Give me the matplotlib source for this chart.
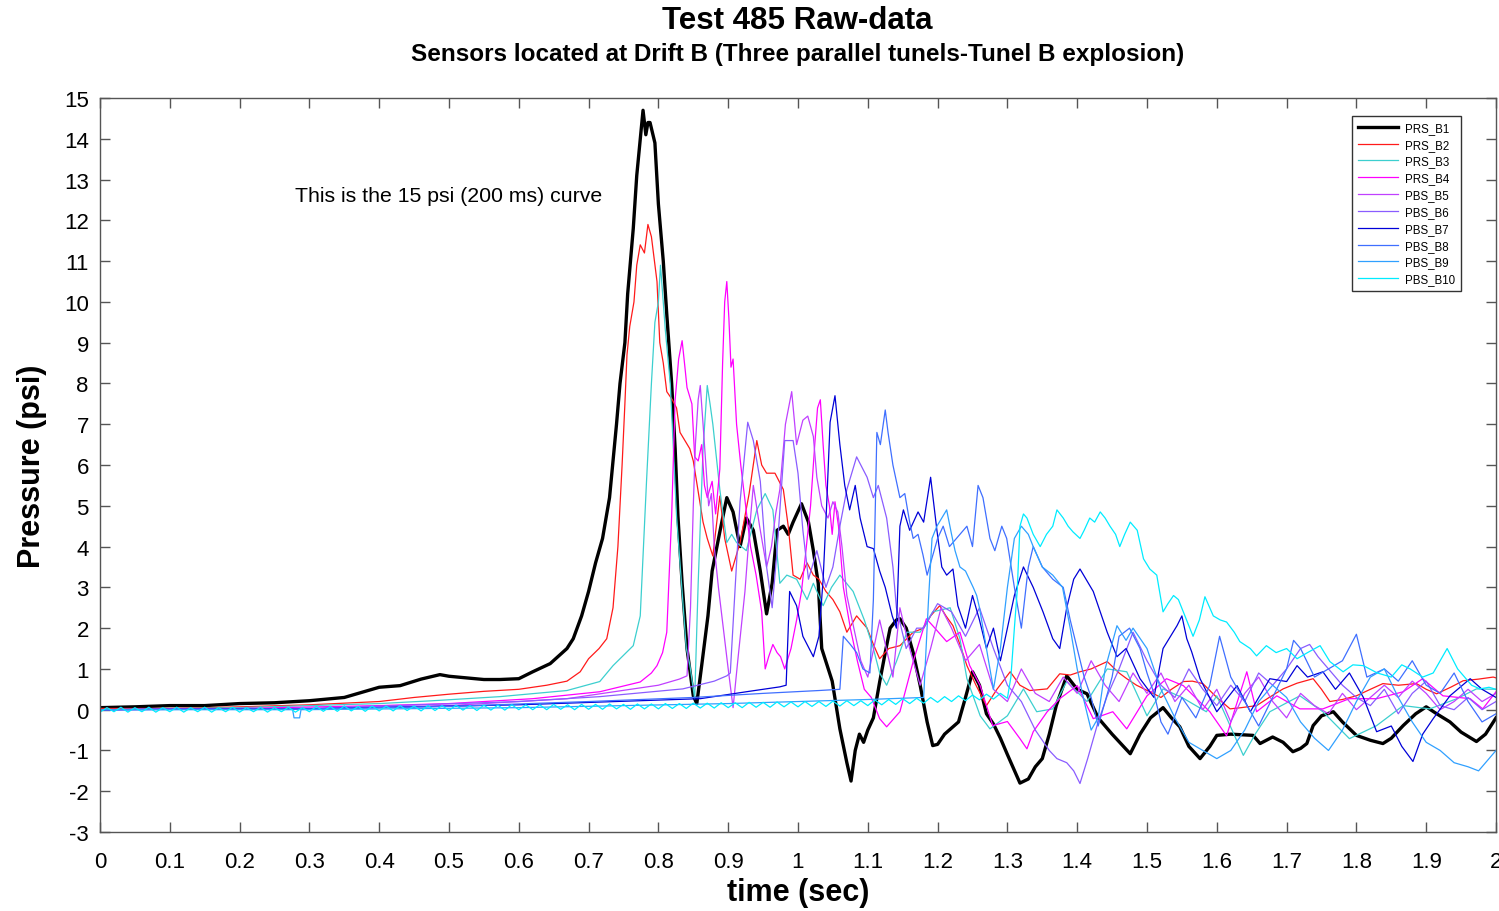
import numpy as np
import matplotlib
matplotlib.use("Agg")
import matplotlib.pyplot as plt
from matplotlib.ticker import FuncFormatter, MultipleLocator

plt.rcParams['font.family'] = ['Liberation Sans', 'DejaVu Sans']
plt.rcParams['axes.unicode_minus'] = False

# ---------------- data (time in s, pressure in psi) ----------------
series_names = ["PRS_B1", "PRS_B2", "PRS_B3", "PRS_B4", "PBS_B5",
                "PBS_B6", "PBS_B7", "PBS_B8", "PBS_B9", "PBS_B10"]
series_colors = ["#000000", "#FF1A1A", "#3CCFCF", "#FF00FF", "#C040FF",
                 "#8A5CFF", "#0000D8", "#3F6FFF", "#30A0FF", "#00ECFF"]

b1 = [(0, 0.05), (0.05, 0.07), (0.1, 0.1), (0.15, 0.1), (0.2, 0.15), (0.25, 0.17), (0.3, 0.22),
      (0.35, 0.3), (0.38, 0.45), (0.4, 0.55), (0.43, 0.59), (0.46, 0.75), (0.487, 0.86), (0.5, 0.82),
      (0.525, 0.78), (0.55, 0.74), (0.573, 0.74), (0.6, 0.76), (0.62, 0.93), (0.645, 1.13),
      (0.669, 1.5), (0.678, 1.74), (0.69, 2.3), (0.70, 2.9), (0.71, 3.6), (0.72, 4.2), (0.73, 5.2),
      (0.74, 7.0), (0.745, 8.0), (0.752, 9.0), (0.756, 10.2), (0.764, 11.8), (0.769, 13.1),
      (0.774, 14.0), (0.778, 14.7), (0.782, 14.1), (0.785, 14.4), (0.788, 14.4), (0.795, 13.9),
      (0.80, 12.4), (0.807, 11.0), (0.812, 9.7), (0.819, 8.0), (0.824, 6.4), (0.828, 4.75),
      (0.834, 3.1), (0.841, 1.5), (0.85, 0.34), (0.855, 0.15), (0.862, 1.08), (0.871, 2.3),
      (0.877, 3.4), (0.888, 4.36), (0.898, 5.2), (0.907, 4.85), (0.917, 4.0), (0.926, 4.7),
      (0.936, 4.4), (0.946, 3.4), (0.955, 2.35), (0.963, 3.1), (0.97, 4.4), (0.979, 4.5),
      (0.986, 4.3), (0.993, 4.6), (1.005, 5.05), (1.015, 4.6), (1.022, 3.9), (1.029, 3.1),
      (1.034, 1.5), (1.049, 0.7), (1.06, -0.47), (1.07, -1.3), (1.076, -1.75), (1.082, -1.0),
      (1.088, -0.6), (1.094, -0.8), (1.1, -0.5), (1.108, -0.2), (1.117, 0.68), (1.125, 1.4),
      (1.132, 2.0), (1.141, 2.2), (1.146, 2.23), (1.155, 2.0), (1.165, 1.4), (1.175, 0.6),
      (1.185, -0.3), (1.193, -0.88), (1.2, -0.85), (1.21, -0.6), (1.22, -0.45), (1.23, -0.3),
      (1.24, 0.3), (1.25, 0.93), (1.26, 0.6), (1.27, -0.1), (1.28, -0.35), (1.29, -0.7),
      (1.30, -1.1), (1.318, -1.8), (1.33, -1.7), (1.34, -1.4), (1.35, -1.2), (1.36, -0.6),
      (1.37, 0.1), (1.385, 0.83), (1.4, 0.5), (1.414, 0.39), (1.43, -0.2), (1.45, -0.6),
      (1.476, -1.08), (1.49, -0.6), (1.505, -0.2), (1.523, 0.05), (1.535, -0.2), (1.547, -0.42),
      (1.56, -0.9), (1.576, -1.2), (1.59, -0.9), (1.6, -0.63), (1.62, -0.6), (1.64, -0.62),
      (1.652, -0.63), (1.662, -0.83), (1.68, -0.67), (1.695, -0.8), (1.709, -1.03), (1.72, -0.95),
      (1.729, -0.83), (1.738, -0.39), (1.75, -0.15), (1.767, -0.05), (1.78, -0.3), (1.8, -0.63),
      (1.82, -0.75), (1.838, -0.83), (1.85, -0.7), (1.867, -0.39), (1.885, -0.1), (1.9, 0.07),
      (1.915, -0.1), (1.934, -0.3), (1.95, -0.55), (1.972, -0.78), (1.985, -0.6), (2.0, -0.2)]

b2 = [(0, 0.03), (0.1, 0.03), (0.2, 0.07), (0.3, 0.12), (0.4, 0.2), (0.45, 0.3), (0.5, 0.38),
      (0.55, 0.45), (0.6, 0.5), (0.64, 0.6), (0.669, 0.7), (0.688, 0.93), (0.70, 1.25),
      (0.715, 1.5), (0.726, 1.74), (0.735, 2.5), (0.742, 4.0), (0.748, 6.0), (0.752, 7.5),
      (0.755, 8.7), (0.759, 9.4), (0.765, 10.0), (0.769, 10.9), (0.774, 11.4), (0.78, 11.2),
      (0.785, 11.9), (0.79, 11.6), (0.798, 10.5), (0.802, 9.0), (0.807, 8.5), (0.812, 7.8),
      (0.82, 7.6), (0.826, 7.4), (0.831, 6.8), (0.838, 6.6), (0.845, 6.4), (0.85, 6.1),
      (0.857, 5.35), (0.864, 4.6), (0.87, 4.2), (0.878, 3.77), (0.888, 5.24), (0.895, 4.2),
      (0.905, 3.4), (0.917, 4.1), (0.93, 5.3), (0.941, 6.6), (0.948, 6.0), (0.955, 5.8),
      (0.967, 5.8), (0.979, 5.4), (0.986, 4.5), (0.993, 3.3), (1.003, 3.2), (1.013, 3.6),
      (1.022, 3.3), (1.03, 3.2), (1.04, 2.9), (1.05, 2.7), (1.06, 2.4), (1.07, 1.9), (1.084, 2.3),
      (1.099, 2.0), (1.108, 1.6), (1.117, 1.25), (1.13, 1.5), (1.146, 1.57), (1.165, 1.9),
      (1.18, 2.0), (1.19, 2.3), (1.203, 2.55), (1.212, 2.3), (1.222, 2.06), (1.232, 1.6),
      (1.242, 1.08), (1.255, 0.6), (1.27, 0.1), (1.285, 0.5), (1.304, 0.93), (1.318, 0.6),
      (1.332, 0.47), (1.357, 0.51), (1.375, 0.88), (1.39, 0.85), (1.404, 0.93), (1.42, 1.0),
      (1.443, 1.18), (1.46, 0.9), (1.471, 0.76), (1.485, 0.6), (1.504, 0.44), (1.52, 0.3),
      (1.535, 0.5), (1.552, 0.69), (1.565, 0.7), (1.58, 0.64), (1.6, 0.3), (1.619, 0.02),
      (1.635, 0.05), (1.657, 0.1), (1.675, 0.3), (1.695, 0.51), (1.715, 0.65), (1.738, 0.76),
      (1.75, 0.5), (1.762, 0.2), (1.78, 0.25), (1.8, 0.34), (1.82, 0.5), (1.838, 0.64),
      (1.86, 0.6), (1.886, 0.64), (1.9, 0.5), (1.915, 0.39), (1.935, 0.55), (1.953, 0.71),
      (1.975, 0.75), (1.996, 0.8), (2.0, 0.78)]

b3 = [(0, 0.0), (0.2, 0.05), (0.4, 0.15), (0.477, 0.22), (0.573, 0.32), (0.669, 0.47),
      (0.716, 0.69), (0.735, 1.08), (0.764, 1.57), (0.774, 2.3), (0.783, 5.6), (0.79, 8.0),
      (0.795, 9.5), (0.80, 10.0), (0.803, 10.9), (0.81, 9.3), (0.817, 8.0), (0.826, 4.75),
      (0.84, 1.5), (0.845, 1.1), (0.852, 0.27), (0.857, 3.1), (0.864, 6.4), (0.87, 7.95),
      (0.874, 7.5), (0.878, 7.0), (0.888, 5.4), (0.898, 4.1), (0.905, 4.3), (0.912, 4.1),
      (0.926, 3.9), (0.941, 4.9), (0.953, 5.3), (0.964, 4.9), (0.974, 3.1), (0.984, 3.3),
      (0.998, 3.2), (1.013, 2.7), (1.022, 3.1), (1.036, 2.55), (1.048, 3.0), (1.06, 3.3),
      (1.079, 2.9), (1.095, 2.2), (1.108, 1.5), (1.117, 0.9), (1.127, 0.6), (1.141, 1.18),
      (1.156, 1.9), (1.175, 1.9), (1.193, 2.4), (1.218, 2.5), (1.232, 1.74), (1.242, 0.76),
      (1.261, -0.15), (1.275, -0.47), (1.3, -0.15), (1.323, 0.51), (1.342, -0.05), (1.365, 0.02),
      (1.385, 0.69), (1.414, 0.2), (1.443, 1.0), (1.471, 0.93), (1.5, -0.15), (1.523, 0.51),
      (1.55, 0.3), (1.585, -0.05), (1.6, 0.34), (1.638, -1.12), (1.655, -0.6), (1.676, -0.05),
      (1.719, 0.34), (1.752, -0.05), (1.79, -0.71), (1.829, -0.39), (1.867, 0.1), (1.905, 0.02),
      (1.944, 0.27), (1.972, 0.51), (2.0, 0.5)]

b4 = [(0, 0.0), (0.2, 0.03), (0.4, 0.1), (0.5, 0.15), (0.62, 0.27), (0.716, 0.44), (0.774, 0.68),
      (0.79, 0.9), (0.798, 1.08), (0.806, 1.4), (0.812, 1.9), (0.819, 4.75), (0.824, 7.6),
      (0.829, 8.6), (0.834, 9.05), (0.838, 8.4), (0.841, 7.9), (0.848, 7.5), (0.852, 6.2),
      (0.857, 6.1), (0.862, 6.5), (0.866, 5.5), (0.87, 5.2), (0.877, 5.6), (0.882, 4.8),
      (0.888, 5.9), (0.892, 8.5), (0.895, 10.0), (0.898, 10.5), (0.901, 9.6), (0.904, 8.4),
      (0.907, 8.6), (0.912, 7.0), (0.918, 6.0), (0.925, 5.0), (0.932, 4.0), (0.94, 3.3),
      (0.948, 2.4), (0.953, 1.0), (0.958, 1.3), (0.964, 1.6), (0.97, 1.4), (0.975, 1.3),
      (0.981, 1.0), (0.99, 1.5), (0.998, 2.2), (1.005, 2.9), (1.012, 4.0), (1.018, 5.0),
      (1.024, 6.5), (1.028, 7.4), (1.032, 7.6), (1.036, 6.5), (1.04, 5.5), (1.045, 5.0),
      (1.049, 4.3), (1.053, 5.1), (1.058, 4.5), (1.065, 3.0), (1.075, 2.0), (1.085, 1.2),
      (1.095, 0.5), (1.105, 0.3), (1.117, -0.22), (1.127, -0.42), (1.146, -0.05), (1.165, 1.18),
      (1.184, 2.23), (1.193, 2.06), (1.213, 1.67), (1.232, 1.9), (1.246, 1.08), (1.261, 0.59),
      (1.279, -0.39), (1.3, -0.29), (1.318, -0.71), (1.328, -0.96), (1.337, -0.54),
      (1.357, -0.05), (1.375, 0.27), (1.4, 0.59), (1.423, -0.22), (1.451, -0.05), (1.471, -0.47),
      (1.5, 0.34), (1.528, 0.76), (1.552, 0.59), (1.59, -0.05), (1.614, -0.64), (1.643, 0.93),
      (1.657, -0.05), (1.686, 0.34), (1.719, 0.02), (1.752, 0.02), (1.79, 0.27), (1.829, 0.27),
      (1.867, 0.44), (1.895, 0.76), (1.924, 0.34), (1.963, 0.27), (1.981, 0.02), (2.0, 0.44)]

b5 = [(0, 0.0), (0.3, 0.03), (0.5, 0.1), (0.669, 0.27), (0.764, 0.51), (0.8, 0.6), (0.83, 0.75),
      (0.841, 0.83), (0.846, 2.5), (0.85, 5.0), (0.853, 6.5), (0.857, 7.6), (0.86, 7.95),
      (0.864, 7.0), (0.868, 6.0), (0.872, 5.0), (0.876, 5.3), (0.88, 4.0), (0.886, 3.0),
      (0.893, 2.0), (0.9, 1.0), (0.907, 0.05), (0.914, 1.25), (0.924, 2.9), (0.931, 4.5),
      (0.936, 5.5), (0.945, 4.5), (0.955, 3.5), (0.962, 4.0), (0.968, 4.8), (0.974, 5.4),
      (0.982, 7.0), (0.991, 7.8), (0.998, 6.5), (1.007, 7.1), (1.014, 7.2), (1.022, 6.7),
      (1.027, 5.7), (1.034, 5.0), (1.043, 4.7), (1.05, 5.1), (1.057, 4.85), (1.063, 4.0),
      (1.07, 2.8), (1.08, 2.0), (1.09, 1.2), (1.1, 0.8), (1.117, 2.2), (1.136, 0.8),
      (1.146, 2.5), (1.16, 1.5), (1.175, 0.6), (1.19, 1.5), (1.205, 2.5), (1.22, 2.0),
      (1.24, 1.2), (1.26, 1.6), (1.28, 0.5), (1.3, 0.2), (1.32, 1.0), (1.34, 0.4), (1.36, 0.2),
      (1.38, 0.8), (1.4, 0.4), (1.42, 1.2), (1.44, 0.6), (1.46, 0.2), (1.48, 0.9), (1.5, 0.4),
      (1.52, 0.9), (1.54, 0.2), (1.56, 0.6), (1.58, 0.0), (1.6, 0.5), (1.62, -0.3), (1.64, 0.4),
      (1.66, 0.8), (1.68, 0.2), (1.7, -0.2), (1.72, 0.4), (1.74, 0.1), (1.76, -0.1), (1.78, 0.4),
      (1.8, 0.0), (1.82, 0.3), (1.84, 0.6), (1.86, 0.3), (1.88, 0.7), (1.9, 0.4), (1.92, 0.0),
      (1.94, 0.2), (1.96, 0.5), (1.98, 0.2), (2.0, 0.4)]

b6 = [(0, 0.0), (0.3, 0.03), (0.6, 0.2), (0.716, 0.32), (0.835, 0.51), (0.88, 0.7),
      (0.898, 0.83), (0.903, 0.9), (0.91, 3.0), (0.917, 5.1), (0.928, 7.05), (0.936, 6.6),
      (0.946, 5.6), (0.955, 3.5), (0.963, 2.5), (0.97, 3.9), (0.981, 6.6), (0.993, 6.6),
      (1.0, 5.8), (1.007, 4.4), (1.015, 3.2), (1.027, 3.9), (1.04, 3.0), (1.05, 3.5),
      (1.06, 4.5), (1.07, 5.4), (1.084, 6.2), (1.099, 5.7), (1.108, 5.2), (1.115, 5.5),
      (1.127, 4.7), (1.136, 3.5), (1.141, 2.5), (1.155, 1.5), (1.17, 2.0), (1.18, 2.0),
      (1.2, 2.6), (1.22, 2.4), (1.24, 1.8), (1.26, 2.5), (1.28, 1.5), (1.3, 0.6), (1.32, 0.2),
      (1.34, -0.5), (1.36, -1.0), (1.371, -1.2), (1.385, -1.3), (1.395, -1.5), (1.404, -1.81),
      (1.415, -1.2), (1.43, -0.3), (1.443, 0.34), (1.46, 1.0), (1.48, 1.9), (1.5, 1.2),
      (1.52, 0.6), (1.54, 0.3), (1.56, 1.0), (1.58, 0.5), (1.6, 0.1), (1.62, 0.6), (1.64, 0.2),
      (1.66, 0.9), (1.68, 0.6), (1.7, 1.0), (1.72, 1.5), (1.733, 1.6), (1.745, 1.3), (1.76, 1.0),
      (1.78, 0.6), (1.8, 0.3), (1.82, 0.1), (1.84, 0.5), (1.86, -0.1), (1.88, 0.4), (1.9, 0.7),
      (1.92, 0.1), (1.94, 0.0), (1.96, 0.3), (1.98, 0.0), (2.0, 0.2)]

b7 = [(0, 0.0), (0.3, 0.02), (0.6, 0.12), (0.86, 0.27), (0.93, 0.45), (0.974, 0.56),
      (0.983, 0.6), (0.988, 2.9), (0.998, 2.55), (1.007, 1.8), (1.022, 1.3), (1.03, 1.8),
      (1.036, 3.2), (1.041, 5.0), (1.046, 7.05), (1.053, 7.7), (1.06, 6.5), (1.067, 5.5),
      (1.074, 4.9), (1.082, 5.5), (1.089, 4.7), (1.099, 4.0), (1.108, 3.95), (1.117, 3.4),
      (1.125, 3.0), (1.135, 2.3), (1.141, 2.0), (1.146, 4.5), (1.151, 4.9), (1.16, 4.4),
      (1.172, 4.85), (1.18, 4.6), (1.19, 5.7), (1.199, 4.4), (1.206, 3.5), (1.213, 3.3),
      (1.222, 3.45), (1.229, 2.55), (1.24, 2.0), (1.25, 2.8), (1.26, 2.2), (1.27, 1.5),
      (1.28, 2.0), (1.29, 1.2), (1.3, 2.0), (1.31, 2.8), (1.323, 3.5), (1.337, 3.0),
      (1.351, 2.4), (1.365, 1.74), (1.375, 1.5), (1.385, 2.5), (1.395, 3.2), (1.404, 3.45),
      (1.423, 2.9), (1.443, 1.9), (1.457, 1.3), (1.47, 1.5), (1.49, 0.76), (1.51, 0.3),
      (1.523, 1.5), (1.543, 2.06), (1.55, 2.3), (1.557, 1.74), (1.564, 1.42), (1.576, 0.76),
      (1.6, -0.05), (1.629, 0.59), (1.648, -0.05), (1.676, 0.76), (1.7, 0.69), (1.715, 1.08),
      (1.73, 0.8), (1.752, 0.93), (1.77, 0.5), (1.79, 0.9), (1.81, 0.3), (1.829, -0.54),
      (1.85, -0.4), (1.865, -0.9), (1.881, -1.27), (1.895, -0.6), (1.91, -0.22), (1.934, 0.34),
      (1.963, 0.76), (1.98, 0.5), (2.0, 0.3)]

b8 = [(0, 0.0), (0.3, 0.02), (0.5, 0.08), (0.7, 0.2), (0.85, 0.3), (0.95, 0.4), (1.03, 0.47),
      (1.06, 0.5), (1.065, 1.8), (1.075, 1.6), (1.084, 1.4), (1.093, 1.0), (1.103, 0.9),
      (1.108, 2.7), (1.113, 6.8), (1.118, 6.5), (1.125, 7.35), (1.129, 6.8), (1.136, 6.0),
      (1.146, 5.2), (1.153, 5.3), (1.16, 4.6), (1.165, 4.2), (1.172, 4.3), (1.179, 3.8),
      (1.185, 3.3), (1.19, 3.6), (1.2, 4.2), (1.208, 4.5), (1.217, 4.0), (1.227, 4.2),
      (1.242, 4.5), (1.25, 4.0), (1.258, 5.5), (1.265, 5.2), (1.275, 4.2), (1.282, 3.9),
      (1.292, 4.5), (1.299, 4.2), (1.31, 3.0), (1.32, 2.0), (1.33, 3.5), (1.337, 4.0),
      (1.35, 3.5), (1.365, 3.2), (1.38, 3.0), (1.39, 2.2), (1.4, 1.5), (1.41, 0.8), (1.42, 0.3),
      (1.43, -0.4), (1.44, 0.2), (1.45, 0.8), (1.46, 1.8), (1.475, 2.0), (1.49, 1.5), (1.5, 0.9),
      (1.51, 0.4), (1.52, -0.3), (1.53, -0.6), (1.55, 0.3), (1.57, -0.2), (1.59, 0.6),
      (1.604, 1.8), (1.62, 0.8), (1.64, 0.2), (1.66, -0.4), (1.68, 0.3), (1.7, 1.0), (1.71, 1.7),
      (1.72, 1.5), (1.74, 0.8), (1.76, 1.0), (1.78, 1.2), (1.8, 1.85), (1.815, 0.8), (1.84, 1.0),
      (1.86, 0.7), (1.88, 1.2), (1.9, 0.6), (1.92, 0.4), (1.94, 0.9), (1.96, 0.2), (1.98, -0.3),
      (2.0, -0.1)]

b9 = [(0, 0.0), (0.276, 0.0), (0.278, -0.2), (0.286, -0.2), (0.288, 0.0), (0.6, 0.05),
      (0.9, 0.15), (1.1, 0.25), (1.18, 0.3), (1.187, 2.7), (1.192, 4.2), (1.199, 4.5),
      (1.206, 4.7), (1.213, 4.9), (1.22, 4.3), (1.225, 3.9), (1.232, 3.5), (1.24, 3.4),
      (1.251, 3.0), (1.256, 2.8), (1.26, 2.5), (1.27, 1.5), (1.28, 0.5), (1.29, 1.5), (1.3, 3.0),
      (1.31, 4.2), (1.32, 4.5), (1.33, 4.3), (1.337, 4.0), (1.35, 3.5), (1.365, 3.3),
      (1.379, 3.0), (1.39, 2.0), (1.4, 1.0), (1.41, 0.2), (1.42, -0.5), (1.43, -0.2), (1.44, 1.0),
      (1.457, 2.06), (1.47, 1.7), (1.48, 2.0), (1.5, 1.5), (1.52, 0.5), (1.54, -0.2),
      (1.56, -0.8), (1.58, -1.0), (1.6, -1.2), (1.62, -1.0), (1.64, -0.5), (1.66, 0.2),
      (1.68, 0.6), (1.7, 0.3), (1.72, -0.3), (1.74, -0.7), (1.76, -1.0), (1.78, -0.5), (1.8, 0.2),
      (1.82, 0.8), (1.84, 1.0), (1.86, 0.3), (1.88, -0.3), (1.9, -0.8), (1.92, -1.0),
      (1.94, -1.3), (1.96, -1.4), (1.975, -1.5), (1.99, -1.2), (2.0, -1.0)]

# PBS_B10: small oscillating baseline sampled every 0.01 s from 0 to 1.30 s, then the active part
b10_base_t = np.round(np.arange(0, 131) * 0.01, 2)
b10_base_v = [-0.06, 0.05, -0.05, 0.06, -0.06, 0.05, -0.05, 0.06, -0.06, 0.05,
              -0.05, 0.06, -0.06, 0.05, -0.05, 0.06, -0.06, 0.05, -0.05, 0.06,
              -0.06, 0.05, -0.05, 0.06, -0.06, 0.05, -0.05, 0.06, -0.06, 0.05, -0.05,
              0.08, -0.04, 0.08, -0.04, 0.09, -0.03, 0.08, -0.04, 0.09, -0.03,
              0.09, -0.03, 0.10, -0.02, 0.09, -0.03, 0.10, -0.02, 0.10, -0.02,
              0.11, -0.01, 0.10, -0.02, 0.11, -0.01, 0.11, -0.01, 0.12, 0.00,
              0.12, 0.00, 0.12, 0.00, 0.13, 0.01, 0.12, 0.00, 0.13, 0.01,
              0.13, 0.01, 0.14, 0.02, 0.13, 0.01, 0.14, 0.02, 0.14, 0.02,
              0.15, 0.03, 0.15, 0.03, 0.16, 0.04, 0.16, 0.04, 0.17, 0.05,
              0.17, 0.05, 0.18, 0.06, 0.18, 0.06, 0.19, 0.07, 0.19, 0.07,
              0.20, 0.08, 0.20, 0.08, 0.21, 0.09, 0.22, 0.10, 0.22, 0.10,
              0.24, 0.12, 0.25, 0.13, 0.27, 0.15, 0.28, 0.16, 0.30, 0.18,
              0.32, 0.20, 0.34, 0.22, 0.36, 0.24, 0.38, 0.26, 0.40, 0.28]
b10_active = [(1.305, 0.8), (1.31, 2.0), (1.314, 2.9), (1.318, 4.5), (1.323, 4.8), (1.328, 4.7),
              (1.337, 4.3), (1.347, 4.0), (1.356, 4.3), (1.365, 4.5), (1.371, 4.9), (1.38, 4.7),
              (1.387, 4.5), (1.394, 4.36), (1.404, 4.2), (1.41, 4.4), (1.418, 4.7), (1.425, 4.6),
              (1.433, 4.85), (1.44, 4.7), (1.447, 4.5), (1.455, 4.3), (1.461, 4.0), (1.468, 4.3),
              (1.476, 4.6), (1.486, 4.4), (1.495, 3.7), (1.504, 3.45), (1.514, 3.3), (1.523, 2.4),
              (1.53, 2.6), (1.538, 2.8), (1.545, 2.7), (1.552, 2.4), (1.566, 1.8), (1.575, 2.2),
              (1.583, 2.77), (1.595, 2.3), (1.605, 2.2), (1.614, 2.15), (1.625, 1.9), (1.633, 1.67),
              (1.648, 1.5), (1.657, 1.32), (1.671, 1.57), (1.685, 1.4), (1.7, 1.5), (1.715, 1.25),
              (1.73, 1.4), (1.748, 1.57), (1.762, 1.18), (1.781, 0.93), (1.795, 1.1), (1.81, 1.08),
              (1.83, 0.9), (1.85, 0.8), (1.865, 1.1), (1.877, 1.0), (1.895, 0.8), (1.91, 0.9),
              (1.93, 1.5), (1.945, 1.0), (1.965, 0.6), (1.977, 0.51), (1.99, 0.55), (2.0, 0.5)]

x_ticks = [round(0.1 * i, 1) for i in range(21)]
y_ticks = list(range(-3, 16))

# ---------------- figure ----------------
fig = plt.figure(figsize=(14.99, 9.12), dpi=100)
ax = fig.add_axes([0.0667, 0.0866, 0.9313, 0.8048])

all_series = [b1, b2, b3, b4, b5, b6, b7, b8, b9]
for i, data in enumerate(all_series):
    t, v = zip(*data)
    ax.plot(t, v, color=series_colors[i], lw=2.4 if i == 0 else 0.9,
            label=series_names[i], solid_joinstyle='round')
t10 = list(b10_base_t) + [p[0] for p in b10_active]
v10 = list(b10_base_v) + [p[1] for p in b10_active]
ax.plot(t10, v10, color=series_colors[9], lw=0.9, label=series_names[9])

ax.set_xlim(0, 2)
ax.set_ylim(-3, 15)
ax.set_xticks(x_ticks)
ax.set_yticks(y_ticks)
ax.xaxis.set_major_formatter(FuncFormatter(lambda x, p: f"{x:g}"))
ax.tick_params(direction='in', length=7, width=1, top=True, right=True,
               labelsize=16, pad=8, color='#555555')
ax.tick_params(axis='x', pad=14)
for s in ax.spines.values():
    s.set_color('#555555')
    s.set_linewidth(1.0)

ax.set_xlabel("time (sec)", fontsize=22, fontweight='bold', labelpad=3)
ax.set_ylabel("Pressure (psi)", fontsize=22, fontweight='bold', labelpad=12)

fig.text(0.532, 0.977, "Test 485 Raw-data", ha='center', va='center',
         fontsize=22.5, fontweight='bold')
fig.text(0.532, 0.940, "Sensors located at Drift B (Three parallel tunels-Tunel B explosion)",
         ha='center', va='center', fontsize=17.5, fontweight='bold')

ax.text(0.279, 12.62, "This is the 15 psi (200 ms) curve", fontsize=15.3, ha='left', va='center')

leg = ax.legend(loc='upper right', bbox_to_anchor=(0.975, 0.9755), fontsize=8.3,
                handlelength=3.5, labelspacing=0.42, borderpad=0.5, handletextpad=0.6,
                fancybox=False, framealpha=1, edgecolor='#333333', borderaxespad=0)
leg.get_frame().set_linewidth(1.0)

fig.savefig("out.png", dpi=100)
